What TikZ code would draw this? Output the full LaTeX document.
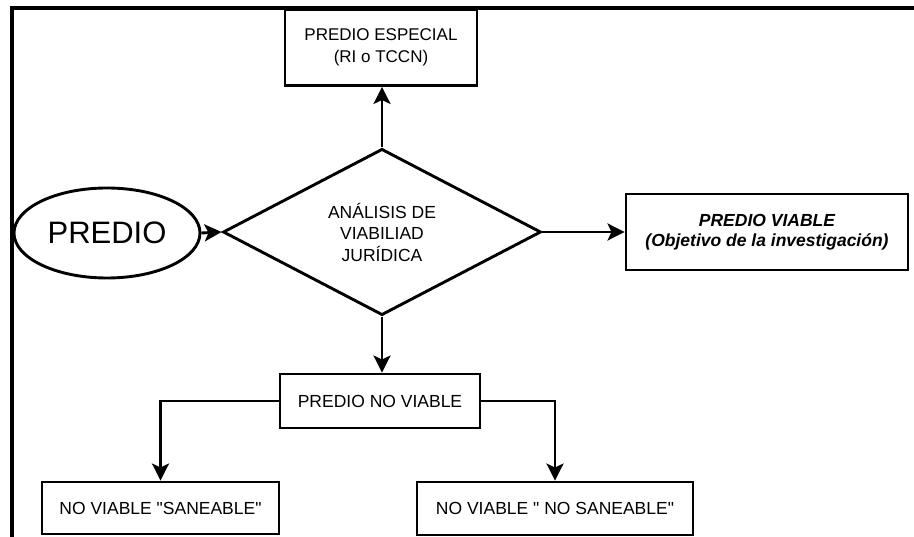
\documentclass[tikz,border=0pt]{standalone}
\usepackage{fontspec}
\setmainfont{Liberation Sans}
\usetikzlibrary{shapes.geometric,arrows.meta}
\begin{document}
\begin{tikzpicture}[x=1pt,y=-1pt,
  line width=2.9pt,
  box/.style={draw,rectangle,inner sep=0pt,align=center,
    font=\fontsize{17.5}{21.5}\selectfont},
  flow/.style={-{Stealth[length=17pt,width=17pt,inset=4pt]}},
  frameline/.style={line width=3.2pt}]
  \useasboundingbox (0,0) rectangle (914,537);

  % outer frame (left and top edges)
  \draw[frameline] (12,537) -- (12,8) -- (914,8);

  % start node
  \node[draw,ellipse,inner sep=0pt,minimum width=186pt,minimum height=90pt,
        font=\fontsize{31}{36}\selectfont] (predio) at (107,233) {PREDIO};

  % decision
  \node[draw,diamond,inner sep=0pt,minimum width=318pt,minimum height=159pt,
        align=center,font=\fontsize{17.5}{21.5}\selectfont] (analisis) at (382,232)
        {ANÁLISIS DE\\VIABILIAD\\JURÍDICA};

  % outcomes
  \node[box,minimum width=192pt,minimum height=76pt,
        font=\fontsize{17}{22}\selectfont] (especial) at (381,47.5)
        {PREDIO ESPECIAL\\(RI o TCCN)};
  \node[box,minimum width=282pt,minimum height=76pt,
        font=\fontsize{17.5}{20.5}\selectfont\bfseries\itshape] (viable) at (767,232)
        {PREDIO VIABLE\\(Objetivo de la investigación)};
  \node[box,minimum width=200pt,minimum height=54pt] (noviable) at (380,401)
        {PREDIO NO VIABLE};
  \node[box,minimum width=237pt,minimum height=52pt] (saneable) at (160.5,508)
        {NO VIABLE \textquotedbl SANEABLE\textquotedbl};
  \node[box,minimum width=276pt,minimum height=53pt] (nosaneable) at (555,508.5)
        {NO VIABLE \textquotedbl\ NO SANEABLE\textquotedbl};

  % connectors
  \draw[flow] (predio.east) -- (analisis.west);
  \draw[flow] (analisis.north) -- (analisis.north |- especial.south);
  \draw[flow] (analisis.east) -- (viable.west);
  \draw[flow] (analisis.south) -- (analisis.south |- noviable.north);
  \draw[flow] (noviable.west) -| (saneable.north);
  \draw[flow] (noviable.east) -| (nosaneable.north);
\end{tikzpicture}
\end{document}
